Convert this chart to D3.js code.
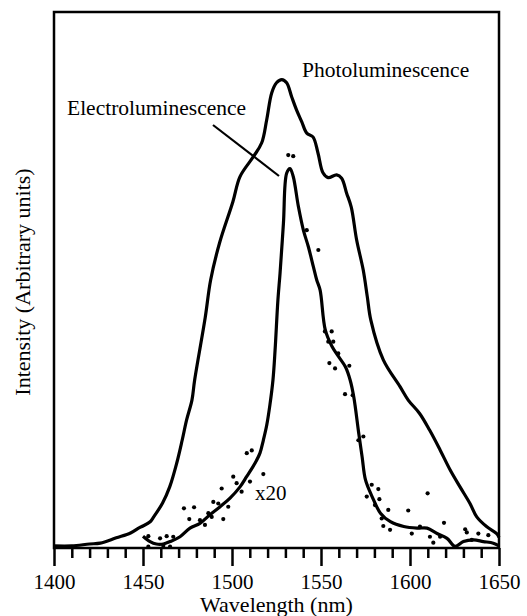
<!DOCTYPE html>
<html>
<head>
<meta charset="utf-8">
<script src="https://cdn.jsdelivr.net/npm/d3@7"></script>
<style>
  body { margin: 0; background: #fff; }
  svg text { font-family: "Liberation Serif", "Times New Roman", serif; fill: #000; }
</style>
</head>
<body>
<svg id="chart" width="527" height="616"></svg>
<script>
// wavelength (nm) and intensity (arbitrary units, 0-100 over the frame height)
const plWavelength = [1400, 1410, 1420, 1426, 1435, 1443, 1448, 1450, 1454, 1456, 1461, 1465, 1469, 1472, 1474.5, 1477.5, 1479, 1485, 1488, 1493, 1500.5, 1504.5, 1512, 1516.7, 1519.5, 1522.3, 1525, 1528, 1530.7, 1533.5, 1536.3, 1539.2, 1542, 1545.5, 1548.3, 1551.1, 1554, 1558.8, 1561.6, 1564.4, 1567, 1570, 1573.7, 1576, 1578, 1585, 1594.4, 1599, 1605.4, 1611, 1616.9, 1622.5, 1628.1, 1633.7, 1637.5, 1643, 1648.7, 1650];
const plIntensity = [0.4, 0.4, 0.75, 0.9, 1.9, 2.8, 3.8, 4.1, 4.9, 5.8, 8.4, 11.4, 15.9, 20.1, 23.9, 27.6, 31.3, 43.1, 50.0, 56.9, 64.6, 69.3, 73.0, 75.6, 79.9, 84.9, 86.8, 87.4, 86.8, 84.2, 81.7, 79.5, 77.4, 76.7, 73.7, 70.0, 69.1, 69.6, 69.0, 66.2, 63.6, 57.5, 51.9, 46.9, 42.5, 35.1, 30.1, 27.6, 25.1, 22.0, 18.3, 14.6, 11.4, 8.3, 5.8, 4.0, 2.7, 2.0];

const elWavelength = [1450, 1454, 1457.5, 1461.4, 1465.2, 1470.8, 1476.4, 1482, 1487.6, 1493.3, 1498.9, 1504.5, 1508.2, 1512.9, 1515.7, 1517.6, 1519.5, 1521.3, 1523, 1524.2, 1525.8, 1527, 1528.9, 1530.7, 1532.6, 1534.4, 1537.3, 1540.1, 1542.9, 1545.7, 1547.6, 1549.5, 1552.4, 1556.2, 1559.9, 1563.7, 1566.4, 1568.4, 1571.2, 1573.1, 1575, 1578.7, 1583.4, 1589, 1596.5, 1604, 1609.6, 1615.2, 1620.8, 1625.3, 1630, 1635.6, 1641.2, 1646.8, 1650];
const elIntensity = [2.2, 1.2, 0.75, 0.75, 1.2, 2.1, 3.7, 4.6, 6.2, 7.7, 9.3, 11.4, 13.3, 15.8, 17.7, 20.1, 22.9, 26.7, 31.3, 36.9, 46.3, 51.3, 60.6, 69.9, 70.8, 69.3, 63.7, 59.3, 56.2, 52.5, 50.0, 48.1, 40.7, 37.6, 35.7, 33.8, 31.3, 28.2, 21.4, 17.0, 12.7, 9.6, 6.5, 4.9, 4.0, 3.7, 3.7, 2.7, 1.8, 0.3, 1.2, 1.5, 1.2, 0.9, 0.4];

// scattered electroluminescence measurements (x20)
const elDotWavelength = [1453, 1453, 1459.6, 1461.4, 1463.3, 1465.2, 1467, 1473, 1476, 1478.7, 1482, 1484.8, 1486.7, 1488.6, 1489.5, 1492.3, 1494.2, 1495.1, 1497.9, 1500.7, 1502.6, 1505.4, 1508.3, 1510.1, 1511.1, 1517.6, 1531.6, 1534.4, 1542, 1548.5, 1552.2, 1554.1, 1554.7, 1556, 1556.9, 1557.9, 1559.7, 1563.5, 1565.9, 1567.8, 1571, 1573.8, 1575.7, 1578.5, 1580.3, 1582.2, 1582.8, 1584.1, 1585, 1587.8, 1588.8, 1599, 1601, 1605.6, 1609.9, 1611.2, 1613.1, 1616.9, 1619.1, 1631, 1631.9, 1634.7, 1638.4, 1644];
const elDotIntensity = [2.2, 0.24, 1.8, 0.4, 2.2, 0.24, 2.1, 7.4, 5.4, 7.6, 5.2, 4.3, 6.5, 5.8, 8.6, 8.3, 11.1, 5.4, 7.7, 13.3, 12.1, 10.5, 17.7, 12.4, 18.2, 13.8, 73.3, 73.1, 59.3, 55.6, 40.4, 38.5, 34.5, 40.4, 38.5, 33.5, 36.3, 28.7, 34.0, 28.5, 20.1, 20.8, 9.6, 11.8, 8.0, 11.0, 9.1, 5.5, 4.1, 7.1, 3.4, 7.0, 2.7, 4.0, 10.2, 2.1, 1.0, 2.1, 4.7, 3.5, 2.9, 1.5, 2.7, 2.4];

const majorTicks = [1400, 1450, 1500, 1550, 1600, 1650];
const minorTicks = d3.range(1400, 1651, 10).filter(v => v % 50 !== 0);

const margin = {top: 12, right: 28, bottom: 68, left: 54},
    width = 527 - margin.left - margin.right,
    height = 616 - margin.top - margin.bottom;

const svg = d3.select("#chart");
const g = svg.append("g")
    .attr("transform", "translate(" + margin.left + "," + margin.top + ")");

const x = d3.scaleLinear().domain([1400, 1650]).range([0, width]);
const y = d3.scaleLinear().domain([0, 100]).range([height, 0]);

// minor ticks
g.append("g")
    .attr("transform", "translate(0," + height + ")")
    .call(d3.axisBottom(x).tickValues(minorTicks).tickSize(10).tickFormat(""))
    .call(a => a.select(".domain").remove())
    .selectAll("line").attr("stroke", "#000").attr("stroke-width", 2.5);

// major ticks with labels
g.append("g")
    .attr("transform", "translate(0," + height + ")")
    .call(d3.axisBottom(x).tickValues(majorTicks).tickSize(18).tickPadding(8).tickFormat(d3.format("d")))
    .call(a => a.select(".domain").remove())
    .call(a => a.selectAll("line").attr("stroke", "#000").attr("stroke-width", 2.5))
    .selectAll("text")
    .attr("font-size", "21px")
    .attr("font-family", "Liberation Serif");

// frame
g.append("rect")
    .attr("width", width).attr("height", height)
    .attr("fill", "none").attr("stroke", "#000").attr("stroke-width", 2.5);

const line = d3.line()
    .x(d => x(d[0]))
    .y(d => y(d[1]))
    .curve(d3.curveCatmullRom.alpha(0.5));

const plData = plWavelength.map((w, i) => [w, plIntensity[i]]);
const elData = elWavelength.map((w, i) => [w, elIntensity[i]]);
const dotData = elDotWavelength.map((w, i) => [w, elDotIntensity[i]]);

g.append("path").datum(plData)
    .attr("d", line).attr("fill", "none")
    .attr("stroke", "#000").attr("stroke-width", 3.2).attr("stroke-linejoin", "round");

g.append("path").datum(elData)
    .attr("d", line).attr("fill", "none")
    .attr("stroke", "#000").attr("stroke-width", 3.2).attr("stroke-linejoin", "round");

g.selectAll(".dot").data(dotData)
  .enter().append("circle")
    .attr("class", "dot")
    .attr("cx", d => x(d[0]))
    .attr("cy", d => y(d[1]))
    .attr("r", 2.1)
    .attr("fill", "#000");

// annotations
g.append("text").attr("x", 302 - margin.left).attr("y", 77 - margin.top)
    .attr("font-size", "21.5px").text("Photoluminescence");
g.append("text").attr("x", 67 - margin.left).attr("y", 115 - margin.top)
    .attr("font-size", "21.5px").text("Electroluminescence");
g.append("line")
    .attr("x1", 213 - margin.left).attr("y1", 125 - margin.top)
    .attr("x2", 279 - margin.left).attr("y2", 176 - margin.top)
    .attr("stroke", "#000").attr("stroke-width", 2.2);
g.append("text").attr("x", 255 - margin.left).attr("y", 500 - margin.top)
    .attr("font-size", "21px").text("x20");

// axis titles
svg.append("text")
    .attr("x", margin.left + width / 2).attr("y", 612)
    .attr("text-anchor", "middle").attr("font-size", "22px")
    .text("Wavelength (nm)");
svg.append("text")
    .attr("transform", "translate(30,282) rotate(-90)")
    .attr("text-anchor", "middle").attr("font-size", "22px")
    .text("Intensity (Arbitrary units)");
</script>
</body>
</html>
